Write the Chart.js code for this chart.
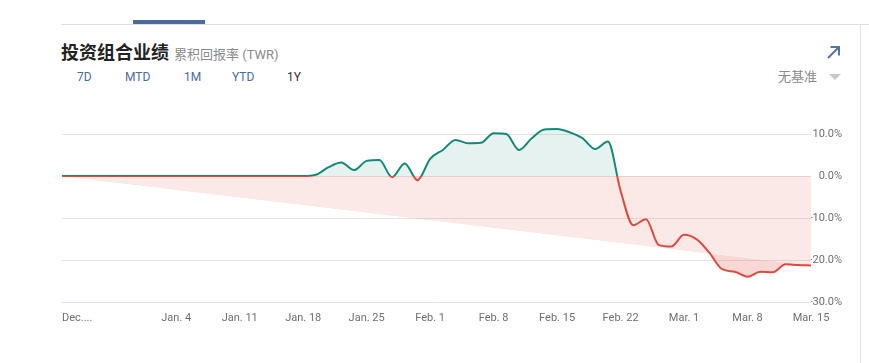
<!DOCTYPE html>
<html lang="zh">
<head>
  <meta charset="UTF-8" />
  <title>投资组合业绩</title>
  <script src="https://cdn.jsdelivr.net/npm/chart.js"></script>
  <style>
    * { margin: 0; padding: 0; box-sizing: border-box; }
    body {
      width: 869px; height: 363px; background: #fff; overflow: hidden;
      position: relative; font-family: Roboto, 'Noto Sans CJK SC', sans-serif;
    }
    .topline { position: absolute; left: 61px; top: 24px; width: 808px; height: 1px; background: #dedede; }
    .tabbar { position: absolute; left: 133px; top: 20px; width: 72px; height: 4px; background: #4a6b9d; }
    .sideline { position: absolute; left: 860px; top: 24px; width: 1px; height: 339px; background: #e2e2e2; }
    .title { position: absolute; left: 61px; top: 40px; line-height: 22px; white-space: nowrap; }
    .title b { font-family: 'Noto Sans CJK SC', sans-serif; font-size: 18px; color: #222; }
    .title span { font-size: 13px; color: #8a8a8a; margin-left: 1px; }
    .tab { position: absolute; top: 69px; font-size: 12px; line-height: 16px; color: #4a6b9d; }
    .tab.on { color: #333; }
    .bench { position: absolute; left: 778px; top: 67px; font-size: 13px; line-height: 18px; color: #8a8a8a; font-family: 'Noto Sans CJK SC', sans-serif; }
    .caret { position: absolute; left: 829px; top: 74px; width: 0; height: 0;
      border-left: 6px solid transparent; border-right: 6px solid transparent; border-top: 6px solid #c8c8c8; }
    .expand { position: absolute; left: 826px; top: 45px; }
    .wrap { position: absolute; left: 0; top: 100px; width: 869px; height: 240px; }
  </style>
</head>
<body>
  <div class="topline"></div>
  <div class="tabbar"></div>
  <div class="sideline"></div>

  <div class="title"><b>投资组合业绩</b> <span>累积回报率 (TWR)</span></div>
  <span class="tab" style="left:77px">7D</span>
  <span class="tab" style="left:125px">MTD</span>
  <span class="tab" style="left:184px">1M</span>
  <span class="tab" style="left:232px">YTD</span>
  <span class="tab on" style="left:287px">1Y</span>

  <svg class="expand" width="16" height="15" viewBox="0 0 16 15">
    <path d="M2 13 L13 2 M4.5 2 H13 V10.5" fill="none" stroke="#5673a8" stroke-width="2"/>
  </svg>
  <span class="bench">无基准</span>
  <div class="caret"></div>

  <div class="wrap"><canvas id="perf"></canvas></div>

  <script>
    // cumulative return (%), one value per weekday from Dec. 22 to Mar. 15
    const returns = [
      0, 0, 0, 0, 0, 0, 0, 0, 0, 0,
      0, 0, 0, 0, 0, 0, 0, 0, 0, 0,
      0.3, 2.1, 3.2, 1.4, 3.6, 3.8, -0.3, 3.0, -1.0, 4.1,
      6.2, 8.6, 7.8, 7.9, 10.2, 10.0, 6.2, 9.0, 11.1, 11.2,
      10.4, 9.0, 6.4, 8.2, -3.5, -11.7, -10.3, -16.4, -16.8, -14.0,
      -15.1, -18.3, -22.2, -22.8, -24.0, -22.8, -22.9, -21.0, -21.2, -21.3
    ];
    const tickPos = [0, 9, 14, 19, 24, 29, 34, 39, 44, 49, 54, 59];
    const tickLabels = ['Dec....', 'Jan. 4', 'Jan. 11', 'Jan. 18', 'Jan. 25', 'Feb. 1',
                        'Feb. 8', 'Feb. 15', 'Feb. 22', 'Mar. 1', 'Mar. 8', 'Mar. 15'];
    const yTicks = [-30, -20, -10, 0, 10];

    const GREEN = '#138a78';
    const RED = '#e1493d';

    const points = returns.map((v, i) => ({ x: i, y: v }));
    const last = points.length - 1;
    // straight line from the start to the final return
    const trend = [{ x: 0, y: returns[0] }, { x: last, y: returns[last] }];

    function splitColor(ctx) {
      const chart = ctx.chart;
      const area = chart.chartArea;
      if (!area) return GREEN;
      const z = chart.scales.y.getPixelForValue(0);
      const stop = Math.min(1, Math.max(0, (z - area.top) / (area.bottom - area.top)));
      const g = chart.ctx.createLinearGradient(0, area.top, 0, area.bottom);
      g.addColorStop(0, GREEN);
      g.addColorStop(stop, GREEN);
      g.addColorStop(stop, RED);
      g.addColorStop(1, RED);
      return g;
    }

    new Chart(document.getElementById('perf'), {
      type: 'line',
      data: {
        datasets: [
          {
            data: points,
            borderColor: splitColor,
            borderWidth: 2,
            pointRadius: 0,
            cubicInterpolationMode: 'monotone',
            fill: { target: 'origin', above: 'rgba(19,138,120,0.11)', below: 'rgba(0,0,0,0)' }
          },
          {
            data: points,
            borderWidth: 0,
            borderColor: 'rgba(0,0,0,0)',
            pointRadius: 0,
            cubicInterpolationMode: 'monotone',
            fill: { target: 2, above: 'rgba(0,0,0,0)', below: 'rgba(225,73,61,0.22)' }
          },
          {
            data: trend,
            borderWidth: 0,
            borderColor: 'rgba(0,0,0,0)',
            pointRadius: 0,
            backgroundColor: 'rgba(225,73,61,0.12)',
            fill: 'origin'
          }
        ]
      },
      options: {
        responsive: true,
        maintainAspectRatio: false,
        animation: false,
        layout: { padding: { left: 62, right: 27, top: 13, bottom: 8 } },
        plugins: { legend: { display: false }, tooltip: { enabled: false } },
        font: { family: 'Roboto' },
        scales: {
          x: {
            type: 'linear',
            min: 0,
            max: last,
            grid: { display: false, drawTicks: false },
            border: { display: false },
            afterBuildTicks: (axis) => {
              axis.ticks = tickPos.map(v => ({ value: v }));
              axis.ticks.push({ value: last }); // keeps "Mar. 15" centred under 'inner' alignment
            },
            afterFit: (axis) => { axis.height = 30; },
            ticks: {
              autoSkip: false,
              maxRotation: 0,
              align: 'inner',
              padding: 10,
              color: '#6f6f6f',
              font: { family: 'Roboto', size: 11 },
              callback: (v, i) => tickLabels[i] || ''
            }
          },
          y: {
            position: 'right',
            min: -30,
            max: 15,
            border: { display: false },
            grid: {
              drawTicks: false,
              color: (c) => (c.tick && c.tick.value === -30 ? '#dde3ee' : '#e4e4e4')
            },
            afterBuildTicks: (axis) => { axis.ticks = yTicks.map(v => ({ value: v })); },
            afterFit: (axis) => { axis.width = 31; },
            ticks: {
              crossAlign: 'far',
              padding: 0,
              color: '#6f6f6f',
              font: { family: 'Roboto', size: 11 },
              callback: (v) => v.toFixed(1) + '%'
            }
          }
        }
      }
    });
  </script>
</body>
</html>
